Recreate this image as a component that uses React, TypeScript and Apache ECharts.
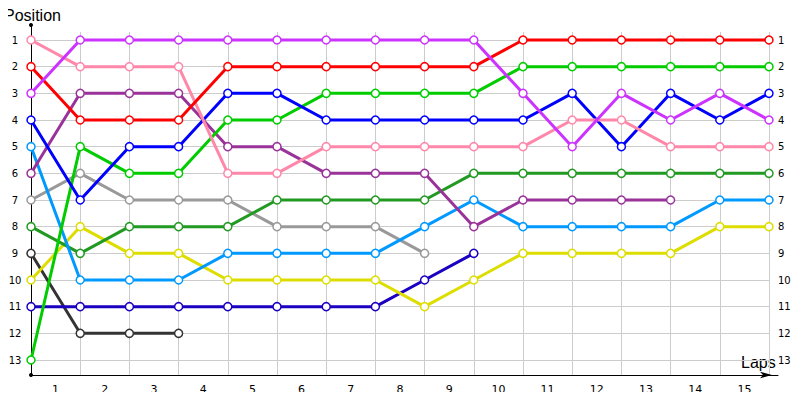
import React, { useEffect, useRef } from "react";
import * as echarts from "echarts";

// x positions 0..15 (start + 15 laps), gridline at each
const lapPoints = [0, 1, 2, 3, 4, 5, 6, 7, 8, 9, 10, 11, 12, 13, 14, 15];
// lap labels sit between gridlines
const lapLabelValues = [0.5, 1.5, 2.5, 3.5, 4.5, 5.5, 6.5, 7.5, 8.5, 9.5, 10.5, 11.5, 12.5, 13.5, 14.5];
const positionTicks = [1, 2, 3, 4, 5, 6, 7, 8, 9, 10, 11, 12, 13];

// position after each lap (index 0 = start)
const pinkPos = [1, 2, 2, 2, 6, 6, 5, 5, 5, 5, 5, 4, 4, 5, 5, 5];
const redPos = [2, 4, 4, 4, 2, 2, 2, 2, 2, 2, 1, 1, 1, 1, 1, 1];
const violetPos = [3, 1, 1, 1, 1, 1, 1, 1, 1, 1, 3, 5, 3, 4, 3, 4];
const bluePos = [4, 7, 5, 5, 3, 3, 4, 4, 4, 4, 4, 3, 5, 3, 4, 3];
const skyPos = [5, 10, 10, 10, 9, 9, 9, 9, 8, 7, 8, 8, 8, 8, 7, 7];
const purplePos = [6, 3, 3, 3, 5, 5, 6, 6, 6, 8, 7, 7, 7, 7];
const grayPos = [7, 6, 7, 7, 7, 8, 8, 8, 9];
const darkGreenPos = [8, 9, 8, 8, 8, 7, 7, 7, 7, 6, 6, 6, 6, 6, 6, 6];
const darkGrayPos = [9, 12, 12, 12];
const yellowPos = [10, 8, 9, 9, 10, 10, 10, 10, 11, 10, 9, 9, 9, 9, 8, 8];
const indigoPos = [11, 11, 11, 11, 11, 11, 11, 11, 10, 9];
const greenPos = [13, 5, 6, 6, 4, 4, 3, 3, 3, 3, 2, 2, 2, 2, 2, 2];

const seriesList: { name: string; color: string; values: number[] }[] = [
  { name: "Dark gray", color: "#333333", values: darkGrayPos },
  { name: "Gray", color: "#999999", values: grayPos },
  { name: "Indigo", color: "#1a00c0", values: indigoPos },
  { name: "Yellow", color: "#dddd00", values: yellowPos },
  { name: "Dark green", color: "#229922", values: darkGreenPos },
  { name: "Sky blue", color: "#0099ff", values: skyPos },
  { name: "Purple", color: "#993399", values: purplePos },
  { name: "Green", color: "#00cc00", values: greenPos },
  { name: "Blue", color: "#0000ff", values: bluePos },
  { name: "Pink", color: "#ff88aa", values: pinkPos },
  { name: "Red", color: "#ff0000", values: redPos },
  { name: "Violet", color: "#cc33ff", values: violetPos },
];

export default function App() {
  const ref = useRef<HTMLDivElement>(null);
  useEffect(() => {
    if (!ref.current) return;
    const chart = echarts.init(ref.current, undefined, { renderer: "svg" });
    const labelFont = "DejaVu Sans";
    chart.setOption({
      animation: false,
      backgroundColor: "#ffffff",
      grid: [
        { left: 31, right: 31, top: 25, bottom: 25 },
        { left: 31, right: 22, top: 32, bottom: 25 },
      ],
      xAxis: [
        { type: "value", gridIndex: 0, min: 0, max: 15, show: false },
        {
          type: "value",
          gridIndex: 1,
          min: 0,
          max: 15.183,
          axisLine: {
            show: true,
            lineStyle: { color: "#000", width: 1 },
            symbol: ["none", "arrow"],
            symbolSize: [5, 12],
            symbolOffset: [0, -6],
          },
          axisTick: { show: false, customValues: lapPoints },
          splitLine: { show: true, lineStyle: { color: "#cccccc", width: 1 } },
          axisLabel: {
            customValues: lapLabelValues,
            formatter: (v: number) => String(Math.round(v + 0.5)),
            fontSize: 11,
            fontFamily: labelFont,
            color: "#000",
            margin: 9,
          },
        },
      ],
      yAxis: [
        {
          type: "value",
          gridIndex: 0,
          position: "left",
          inverse: true,
          min: 0.4375,
          max: 13.5625,
          axisLine: {
            show: true,
            lineStyle: { color: "#000", width: 1 },
            symbol: ["circle", "circle"],
            symbolSize: [4, 4],
          },
          axisTick: { show: false, customValues: positionTicks },
          splitLine: { show: true, lineStyle: { color: "#cccccc", width: 1 } },
          axisLabel: {
            customValues: positionTicks,
            fontSize: 10,
            fontFamily: labelFont,
            color: "#000",
            align: "center",
            margin: 16,
          },
        },
        {
          type: "value",
          gridIndex: 1,
          inverse: true,
          min: 0.7,
          max: 13.5625,
          show: false,
        },
        {
          type: "value",
          gridIndex: 0,
          position: "right",
          inverse: true,
          min: 0.4375,
          max: 13.5625,
          axisLine: { show: false },
          axisTick: { show: false, customValues: positionTicks },
          splitLine: { show: false },
          axisLabel: {
            customValues: positionTicks,
            fontSize: 10,
            fontFamily: labelFont,
            color: "#000",
            align: "left",
            margin: 9,
          },
        },
      ],
      graphic: [
        {
          type: "text",
          x: 4,
          y: 15,
          style: {
            text: "Position",
            font: "16px 'Liberation Sans'",
            fill: "#000",
            align: "left",
            verticalAlign: "middle",
          },
        },
        {
          type: "text",
          x: 741,
          y: 362,
          style: {
            text: "Laps",
            font: "16px 'Liberation Sans'",
            fill: "#000",
            align: "left",
            verticalAlign: "middle",
          },
        },
      ],
      series: seriesList.map((s) => ({
        type: "line",
        name: s.name,
        xAxisIndex: 1,
        yAxisIndex: 1,
        data: s.values.map((v, i) => [lapPoints[i], v]),
        symbol: "circle",
        symbolSize: 8,
        showSymbol: true,
        lineStyle: { color: s.color, width: 3 },
        itemStyle: { color: "#ffffff", borderColor: s.color, borderWidth: 1.5 },
        emphasis: { disabled: true },
      })),
    });
    return () => chart.dispose();
  }, []);
  return <div ref={ref} style={{ width: 800, height: 400, margin: -8 }} />;
}
